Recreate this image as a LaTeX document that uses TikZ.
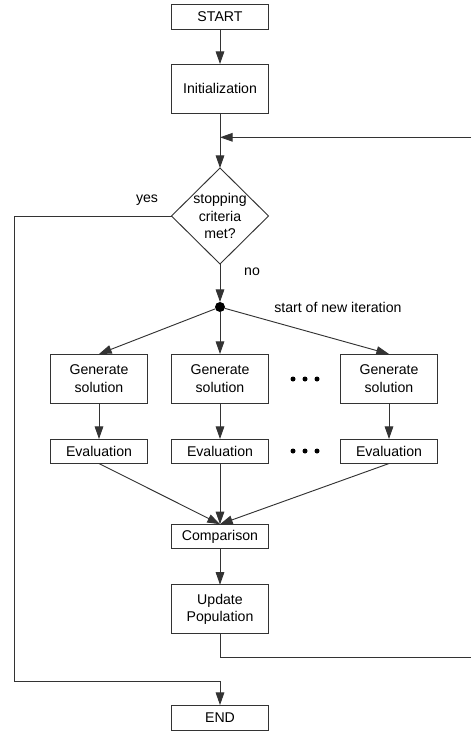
\documentclass[tikz,border=0pt]{standalone}
\usepackage{fontspec}
\setmainfont{Liberation Sans}
\usetikzlibrary{arrows.meta,positioning,shapes.geometric}

\begin{document}
\begin{tikzpicture}[
  x=0.75pt, y=-0.75pt,
  node distance=27pt and 18pt,
  box/.style={draw=black!80, line width=0.7pt, align=center,
    font=\fontsize{10.6}{13.3}\selectfont, minimum width=72.75pt,
    minimum height=18.4pt, inner sep=2pt, outer sep=0pt},
  tall/.style={box, minimum height=36.75pt},
  decide/.style={box, diamond, minimum width=72.75pt,
    minimum height=72pt, inner sep=-1pt},
  fork/.style={circle, fill=black, minimum size=7.5pt, inner sep=0pt,
    outer sep=0pt},
  lbl/.style={font=\fontsize{10.6}{13.3}\selectfont, inner sep=0pt},
  ar/.style={-{Triangle[length=9.5pt, width=6.5pt]}, line width=0.7pt,
    draw=black!80}
]
\useasboundingbox (0,0) rectangle (471,731);

\node[box, minimum height=18.75pt] (start) at (220,16.5) {START};
\node[tall, below=26.25pt of start] (init) {Initialization};
\node[decide, below=41.25pt of init] (crit) {stopping\\criteria\\met?};
\node[fork, below=28.5pt of crit] (split) {};

\node[tall, below=31.5pt of split] (gen2) {Generate\\solution};
\node[tall, left=of gen2] (gen1) {Generate\\solution};
\node[tall, right=54pt of gen2] (gen3) {Generate\\solution};

\node[box, below=of gen1] (eval1) {Evaluation};
\node[box, below=of gen2] (eval2) {Evaluation};
\node[box, below=of gen3] (eval3) {Evaluation};

\node[box, below=45.5pt of eval2] (comp) {Comparison};
\node[tall, below=of comp] (upd) {Update\\Population};
\node[box, minimum height=18.75pt, below=53.5pt of upd] (finish) {END};

\node[lbl] (yes) at (147,200) {yes};
\node[lbl] (no) at (252,272) {no};
\node[lbl, anchor=west] (newit) at (274,307) {start of new iteration};

% ellipsis between the columns
\foreach \dx in {293,305,317} {
  \fill (\dx,379) circle[radius=2.5];
  \fill (\dx,451) circle[radius=2.5];
}

\coordinate (backlow) at (471,657);
\coordinate (backhigh) at (471,137.3);
\coordinate (yesturn) at (14,681);

\draw[ar] (start) -- (init);
\draw[ar] (init) -- (crit);
\draw[ar] (crit) -- (split);
\draw[ar] (split) -- (gen1.north);
\draw[ar] (split) -- (gen2);
\draw[ar] (split) -- (gen3.north);
\foreach \i in {1,2,3} {
  \draw[ar] (gen\i) -- (eval\i);
  \draw[ar] (eval\i.south) -- (comp.north);
}
\draw[ar] (comp) -- (upd);
\draw[line width=0.7pt, draw=black!80] (upd.south) |- (backlow);
\draw[ar] (backhigh) -- (backhigh -| init.south);
\draw[ar] (crit.west) -| (yesturn) -| (finish.north);
\end{tikzpicture}
\end{document}
